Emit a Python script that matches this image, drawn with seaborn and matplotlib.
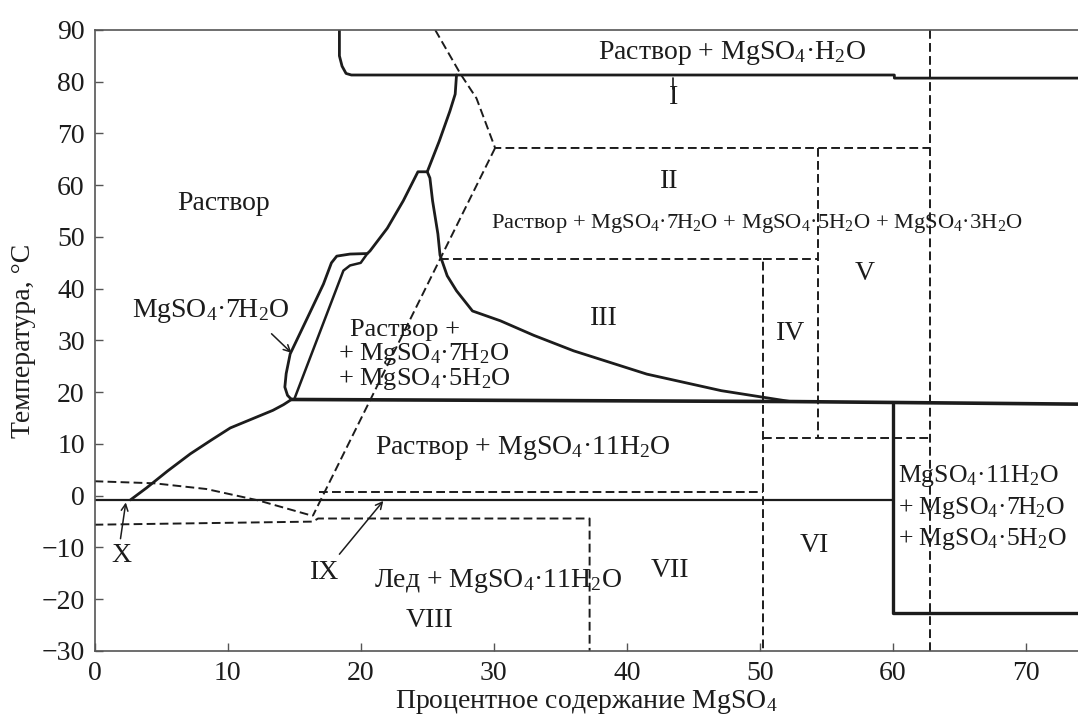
import numpy as np
import pandas as pd
import matplotlib
matplotlib.use("Agg")
import matplotlib.pyplot as plt
import seaborn as sns

# axis ticks
x_ticks = [0, 10, 20, 30, 40, 50, 60, 70]
y_ticks = [-30, -20, -10, 0, 10, 20, 30, 40, 50, 60, 70, 80, 90]

# solid boundaries (MgSO4 %, T degC)
mono_x = [18.4, 18.4, 18.6, 18.9, 19.3, 60.1, 60.1, 73.9]
mono_y = [90, 85, 83, 81.6, 81.3, 81.3, 80.7, 80.7]

hexa_x = [27.2, 27.1, 26.7, 25.9, 25.0]
hexa_y = [81.3, 77.6, 74.3, 68.5, 62.6]

main_x = [14.8, 14.5, 14.3, 14.4, 14.7, 16.0, 17.2, 17.8, 18.2, 19.2, 20.5, 20.7,
          22.0, 23.2, 24.3, 25.0, 25.2, 25.4, 25.8, 25.96, 26.5, 27.2, 28.4, 30.5,
          33.0, 36.0, 41.5, 47.1, 52.3]
main_y = [18.6, 19.4, 21.0, 23.6, 27.4, 34.4, 40.9, 45.0, 46.3, 46.7, 46.8, 47.3,
          51.7, 57.0, 62.6, 62.6, 61.4, 57.0, 50.6, 46.5, 42.5, 39.6, 35.7, 33.8,
          31.0, 28.0, 23.5, 20.3, 18.2]

inner_x = [20.5, 20.0, 19.2, 18.7, 15.0]
inner_y = [46.8, 45.0, 44.5, 43.5, 18.6]

ice_x = [2.7, 3.9, 5.5, 7.2, 8.8, 10.2, 11.8, 13.4, 14.2, 14.8]
ice_y = [-0.8, 1.5, 4.8, 8.1, 10.8, 13.1, 14.8, 16.5, 17.6, 18.6]

eut_x = [14.8, 52.3, 73.9]
eut_y = [18.6, 18.2, 17.7]

freeze_x = [0, 60.0]
freeze_y = [-0.9, -0.9]

box_x = [60.0, 60.0, 73.9]
box_y = [17.7, -22.7, -22.7]

# dashed (metastable) boundaries
meta_x = [25.6, 27.5, 28.7, 30.1, 62.8]
meta_y = [90, 81.5, 76.8, 67.2, 67.2]
diag_x = [30.1, 16.4]
diag_y = [67.2, -3.9]
v54_x, v54_y = [54.4, 54.4], [67.2, 11.2]
h11_x, h11_y = [50.2, 62.8], [11.2, 11.2]
h46_x, h46_y = [25.98, 50.2, 50.2], [45.8, 45.8, -30]
h46b_x, h46b_y = [50.2, 54.4], [45.8, 45.8]
v63_x, v63_y = [62.8, 62.8], [90, -30]
h07_x, h07_y = [16.9, 50.2], [0.7, 0.7]
low_x = [0, 16.4, 16.8, 37.2, 37.2]
low_y = [-5.6, -5.0, -4.4, -4.4, -30]
ice_meta_x = [0, 4.5, 8.4, 12.3, 16.4]
ice_meta_y = [2.8, 2.4, 1.3, -0.9, -3.9]

sns.set_theme(style="ticks")
plt.rcParams['font.family'] = ['Liberation Serif', 'DejaVu Serif']
plt.rcParams['mathtext.fontset'] = 'custom'
plt.rcParams['mathtext.rm'] = 'Liberation Serif'
plt.rcParams['mathtext.it'] = 'Liberation Serif:italic'
plt.rcParams['axes.unicode_minus'] = True

ink = "#1c1c1c"
fs = 20

fig = plt.figure(figsize=(10.78, 7.19), dpi=100)
ax = fig.add_axes([0.0877, 0.0946, 0.9123, 0.8637])


def line(xs, ys, lw=2.0, dashed=False):
    ls = (0, (4.5, 2.2)) if dashed else "-"
    sns.lineplot(x=xs, y=ys, sort=False, estimator=None, color=ink,
                 linewidth=lw, linestyle=ls, ax=ax, solid_joinstyle="round")


line(mono_x, mono_y, 2.0)
line(hexa_x, hexa_y, 2.0)
line(main_x, main_y, 2.0)
line(inner_x, inner_y, 1.8)
line(ice_x, ice_y, 2.0)
line(eut_x, eut_y, 2.6)
line(freeze_x, freeze_y, 1.6)
line(box_x, box_y, 2.4)
line([43.5, 43.5], [80.8, 78.6], 1.2)

for xs, ys in [(meta_x, meta_y), (diag_x, diag_y), (v54_x, v54_y),
               (h11_x, h11_y), (h46_x, h46_y), (h46b_x, h46b_y),
               (v63_x, v63_y), (h07_x, h07_y), (low_x, low_y),
               (ice_meta_x, ice_meta_y)]:
    line(xs, ys, 1.4, dashed=True)


def mg(n):
    return "MgSO$_4$·" + n + "H$_2$O"


def txt(x, y, s, size=fs, ha="center"):
    ax.text(x, y, s, fontsize=size, ha=ha, va="center", color=ink)


txt(47.9, 85.6, "Раствор + MgSO$_4$·H$_2$O")
txt(43.5, 77.0, "I")
txt(43.2, 60.8, "II")
txt(49.8, 52.6, "Раствор + " + mg("7") + " + " + mg("5") + " + " + mg("3"), size=16.2)
txt(9.7, 56.4, "Раствор")
txt(38.3, 34.2, "III")
txt(52.3, 31.3, "IV")
txt(57.9, 43.0, "V")
txt(2.8, 35.7, mg("7"), ha="left")
# stacked labels, one text each line
txt(19.2, 32.0, "Раствор +", size=19, ha="left")
txt(18.3, 27.3, "+ " + mg("7"), size=19, ha="left")
txt(18.3, 22.5, "+ " + mg("5"), size=19, ha="left")
txt(32.2, 9.3, "Раствор + " + mg("11"))
txt(30.3, -16.4, "Лед + " + mg("11"))
txt(43.2, -14.5, "VII")
txt(54.1, -9.7, "VI")
txt(25.2, -24.1, "VIII")
txt(17.3, -14.8, "IX")
txt(2.0, -11.6, "X")
txt(60.4, 3.9, mg("11"), size=18.5, ha="left")
txt(60.4, -2.3, "+ " + mg("7"), size=18.5, ha="left")
txt(60.4, -8.3, "+ " + mg("5"), size=18.5, ha="left")

arrow = dict(arrowstyle="->", color=ink, lw=1.1, shrinkA=0, shrinkB=0)
ax.annotate("", xy=(14.8, 27.6), xytext=(13.3, 31.3), arrowprops=arrow)
ax.annotate("", xy=(21.7, -1.0), xytext=(18.4, -11.3), arrowprops=arrow)
ax.annotate("", xy=(2.35, -1.3), xytext=(1.95, -8.3), arrowprops=arrow)

ax.set_xlim(0, 73.9)
ax.set_ylim(-30, 90)
ax.set_xticks(x_ticks)
ax.set_yticks(y_ticks)
ax.tick_params(direction="in", length=6, width=1.0, colors="#555555",
               labelcolor=ink, labelsize=fs, pad=7)
for side in ["left", "bottom", "top"]:
    ax.spines[side].set_color("#555555")
    ax.spines[side].set_linewidth(1.2)
ax.spines["right"].set_visible(False)
ax.set_xlabel("Процентное содержание MgSO$_4$", fontsize=fs, color=ink, labelpad=2)
ax.set_ylabel("Температура, °C", fontsize=fs, color=ink, labelpad=4)
ax.grid(False)

fig.savefig("out.png", dpi=100)
